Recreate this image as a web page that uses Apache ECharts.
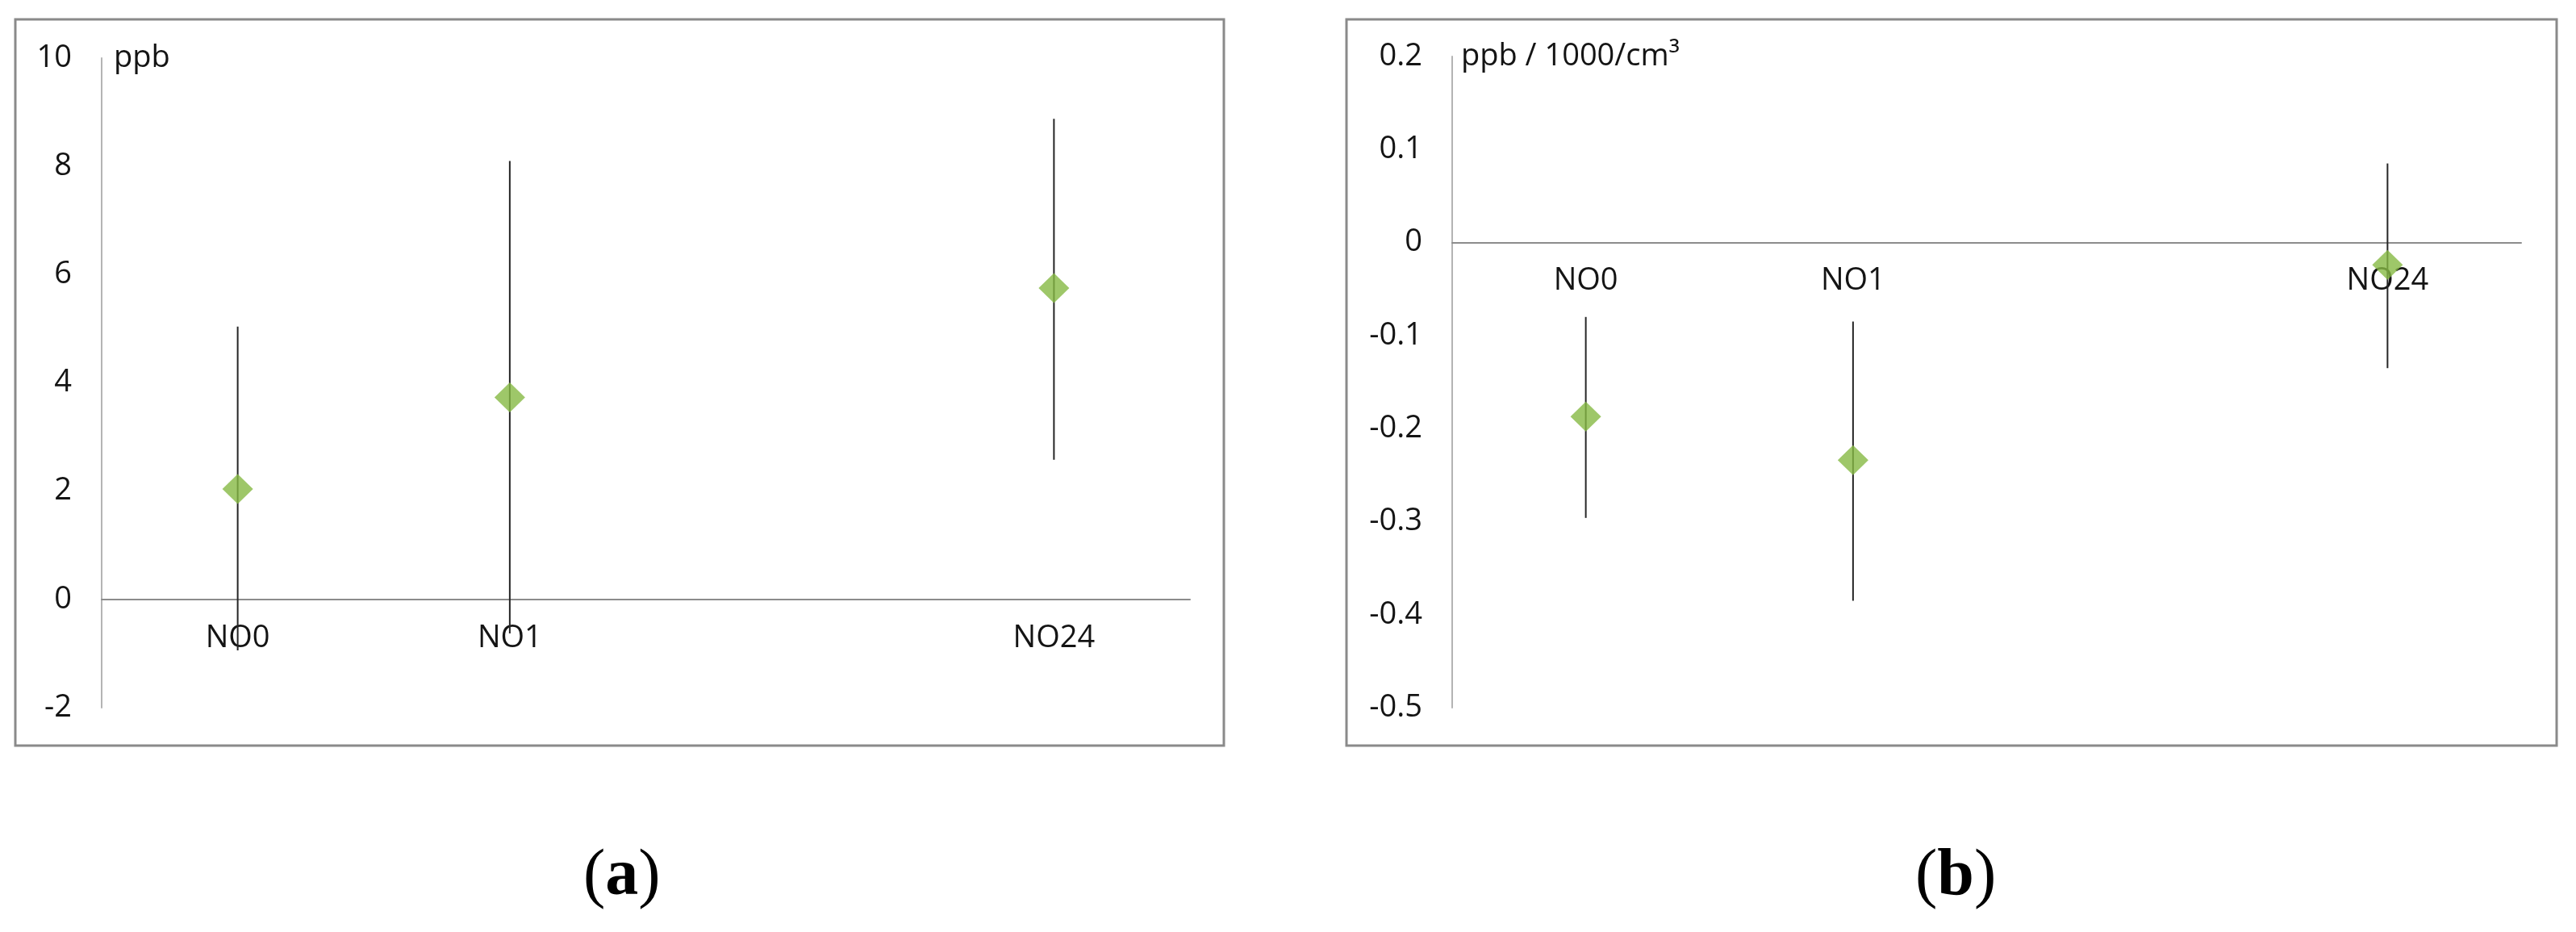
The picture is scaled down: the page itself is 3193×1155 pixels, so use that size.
<!DOCTYPE html>
<html>
<head>
<meta charset="utf-8">
<title>NO correlation</title>
<script src="https://cdn.jsdelivr.net/npm/echarts@6/dist/echarts.min.js"></script>
<style>
  html, body { margin: 0; padding: 0; background: #fff; }
  #chart { width: 3193px; height: 1155px; }
</style>
</head>
<body>
<div id="chart"></div>
<script>
// categories (third slot is empty in the original)
const categories = ['NO0', 'NO1', '', 'NO24'];

// panel (a): ppb
const ppbMean = [2.04, 3.73, '-', 5.75];
const ppbLow = [-0.94, -0.63, '-', 2.58];
const ppbHigh = [5.04, 8.10, '-', 8.88];
const ppbAxis = { min: -2, max: 10, interval: 2, name: 'ppb' };

// panel (b): ppb / 1000/cm³
const ratioMean = [-0.187, -0.234, '-', -0.024];
const ratioLow = [-0.296, -0.385, '-', -0.135];
const ratioHigh = [-0.080, -0.085, '-', 0.085];
const ratioAxis = { min: -0.5, max: 0.2, interval: 0.1, name: 'ppb / 1000/cm³' };

const panelCaptions = ['a', 'b'];

const FONT = '"Open Sans", "Noto Sans", sans-serif';
const TEXT = '#141414';
const GREEN = '#86b943';

const grids = [
  { left: 126, right: 1718, top: 72, bottom: 278 },
  { left: 1800, right: 68, top: 70, bottom: 278 }
];

function errorData(low, high) {
  let out = [];
  for (let i = 0; i < categories.length; i++) {
    if (low[i] === '-' || high[i] === '-') continue;
    out.push([i, low[i], high[i]]);
  }
  return out;
}

function renderBar(params, api) {
  let x = api.value(0);
  let p1 = api.coord([x, api.value(1)]);
  let p2 = api.coord([x, api.value(2)]);
  return {
    type: 'line',
    shape: { x1: p1[0], y1: p1[1], x2: p2[0], y2: p2[1] },
    style: { stroke: '#262626', lineWidth: 2 }
  };
}

// x axis sits on y = 0, labels follow it
function xAxisOf(idx, ax) {
  let g = grids[idx];
  let h = 1155 - g.top - g.bottom;
  let lift = h * (0 - ax.min) / (ax.max - ax.min);
  return {
    type: 'category',
    gridIndex: idx,
    data: categories,
    boundaryGap: true,
    offset: -lift,
    axisLine: { onZero: false, lineStyle: { color: '#8c8c8c', width: 2 } },
    axisTick: { show: false },
    axisLabel: { color: TEXT, fontFamily: FONT, fontSize: 38, margin: 29, interval: 0 },
    splitLine: { show: false }
  };
}

function yAxisOf(idx, ax, pad) {
  return {
    type: 'value',
    gridIndex: idx,
    min: ax.min,
    max: ax.max,
    interval: ax.interval,
    name: ax.name,
    nameLocation: 'end',
    nameGap: 0,
    nameTextStyle: {
      color: TEXT, fontFamily: FONT, fontSize: 38,
      align: 'left', verticalAlign: 'middle', padding: [0, 0, 4, pad]
    },
    axisLine: { show: true, lineStyle: { color: '#b4b4b4', width: 2 } },
    axisTick: { show: false },
    splitLine: { show: false },
    axisLabel: { color: TEXT, fontFamily: FONT, fontSize: 38, margin: 37 }
  };
}

function captionText(letter, cx) {
  return {
    type: 'text',
    left: cx - 45,
    top: 1046,
    style: {
      text: '{p|(}{b|' + letter + '}{p|)}',
      rich: {
        p: { fontFamily: '"Liberation Serif", serif', fontSize: 82, fill: '#000' },
        b: { fontFamily: '"Liberation Serif", serif', fontSize: 82, fontWeight: 'bold', fill: '#000' }
      }
    }
  };
}

let chart = echarts.init(document.getElementById('chart'), null, { renderer: 'canvas' });

chart.setOption({
  backgroundColor: '#fff',
  animation: false,
  grid: grids,
  xAxis: [xAxisOf(0, ppbAxis), xAxisOf(1, ratioAxis)],
  yAxis: [yAxisOf(0, ppbAxis, 15), yAxisOf(1, ratioAxis, 11)],
  graphic: [
    {
      type: 'rect', shape: { x: 19, y: 24, width: 1498, height: 900 },
      style: { fill: 'none', stroke: '#8a8a8a', lineWidth: 3 }, z: -1
    },
    {
      type: 'rect', shape: { x: 1669, y: 24, width: 1500, height: 900 },
      style: { fill: 'none', stroke: '#8a8a8a', lineWidth: 3 }, z: -1
    },
    captionText(panelCaptions[0], 768),
    captionText(panelCaptions[1], 2419)
  ],
  series: [
    {
      type: 'custom', xAxisIndex: 0, yAxisIndex: 0,
      renderItem: renderBar, data: errorData(ppbLow, ppbHigh), z: 2
    },
    {
      type: 'scatter', xAxisIndex: 0, yAxisIndex: 0,
      symbol: 'diamond', symbolSize: [38, 37],
      itemStyle: { color: GREEN }, data: ppbMean, z: 3
    },
    {
      type: 'custom', xAxisIndex: 1, yAxisIndex: 1,
      renderItem: renderBar, data: errorData(ratioLow, ratioHigh), z: 2
    },
    {
      type: 'scatter', xAxisIndex: 1, yAxisIndex: 1,
      symbol: 'diamond', symbolSize: [38, 37],
      itemStyle: { color: GREEN }, data: ratioMean, z: 3
    }
  ]
});
</script>
</body>
</html>
